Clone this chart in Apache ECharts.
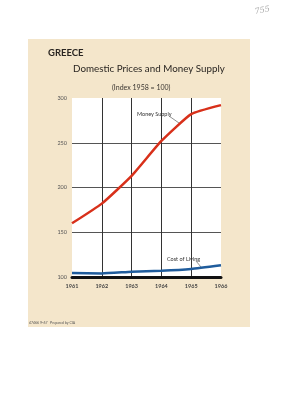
<!DOCTYPE html>
<html>
<head>
<meta charset="utf-8">
<script src="https://cdn.jsdelivr.net/npm/echarts@6/dist/echarts.min.js"></script>
<style>
  html, body { margin: 0; padding: 0; background: #fff; }
  #chart { width: 291px; height: 400px; }
</style>
</head>
<body>
<div id="chart"></div>
<script>
// Index 1958 = 100
const years = ['1961', '1962', '1963', '1964', '1965', '1966']
const moneySupply = [160, 182, 213, 252, 282, 292]
const costOfLiving = [104.5, 104, 106, 107, 109, 113]
const yTicks = [100, 150, 200, 250, 300]

const chart = echarts.init(document.getElementById('chart'))

const option = {
  animation: false,
  backgroundColor: '#fff',
  textStyle: { fontFamily: 'Lato' },
  graphic: [
    {
      type: 'rect', z: -10,
      shape: { x: 28, y: 39, width: 222, height: 288 },
      style: { fill: '#f4e6cb' }
    },
    {
      type: 'text', left: 48, top: 48,
      style: { text: 'GREECE', fontSize: 9.5, fontWeight: 'bold', fill: '#2a2622', fontFamily: 'Lato' }
    },
    {
      type: 'text', left: 73, top: 64,
      style: { text: 'Domestic Prices and Money Supply', fontSize: 9.8, fill: '#2a2622', fontFamily: 'Lato' }
    },
    {
      type: 'text', left: 112, top: 84,
      style: { text: '(Index 1958 = 100)', fontSize: 7, fill: '#3a3530', fontFamily: 'Lato' }
    },
    {
      type: 'text', left: 137, top: 111,
      style: { text: 'Money Supply', fontSize: 5.5, fill: '#333', fontFamily: 'Lato' }
    },
    {
      type: 'line',
      shape: { x1: 169, y1: 116, x2: 179, y2: 123 },
      style: { stroke: '#444', lineWidth: 0.6 }
    },
    {
      type: 'text', left: 167, top: 256,
      style: { text: 'Cost of Living', fontSize: 5.5, fill: '#333', fontFamily: 'Lato' }
    },
    {
      type: 'line',
      shape: { x1: 196, y1: 261, x2: 201, y2: 267 },
      style: { stroke: '#444', lineWidth: 0.6 }
    },
    {
      type: 'text', left: 29, top: 321,
      style: { text: '47466 9-67   Prepared by CIA', fontSize: 3.5, fill: '#555', fontFamily: 'Lato' }
    },
    {
      type: 'text', left: 254, top: 5, rotation: 0.2,
      style: { text: '755', fontSize: 8, fill: '#aaa', fontStyle: 'italic', fontFamily: 'DejaVu Serif' }
    }
  ],
  grid: {
    left: 72, top: 98, right: 70, bottom: 123,
    show: true, backgroundColor: '#fff', borderWidth: 0
  },
  xAxis: {
    type: 'category',
    data: years,
    boundaryGap: false,
    axisLine: { lineStyle: { color: '#111', width: 3 } },
    axisTick: { show: false },
    axisLabel: { fontSize: 5.5, color: '#444', fontWeight: 'bold', margin: 6 },
    splitLine: {
      show: true,
      interval: (i) => i > 0 && i < years.length - 1,
      lineStyle: { color: '#333', width: 1 }
    }
  },
  yAxis: {
    type: 'value',
    min: yTicks[0],
    max: yTicks[yTicks.length - 1],
    interval: 50,
    axisLine: { show: false },
    axisTick: { show: false },
    axisLabel: { fontSize: 5.5, color: '#555', margin: 5 },
    splitLine: { show: true, showMaxLine: false, lineStyle: { color: '#555', width: 1 } }
  },
  series: [
    {
      name: 'Money Supply',
      type: 'line',
      data: moneySupply,
      smooth: 0.15,
      symbol: 'none',
      lineStyle: { color: '#d8301a', width: 2.5 }
    },
    {
      name: 'Cost of Living',
      type: 'line',
      data: costOfLiving,
      smooth: 0.15,
      symbol: 'none',
      lineStyle: { color: '#1f5c9c', width: 2.5 }
    }
  ]
}

chart.setOption(option)
</script>
</body>
</html>
